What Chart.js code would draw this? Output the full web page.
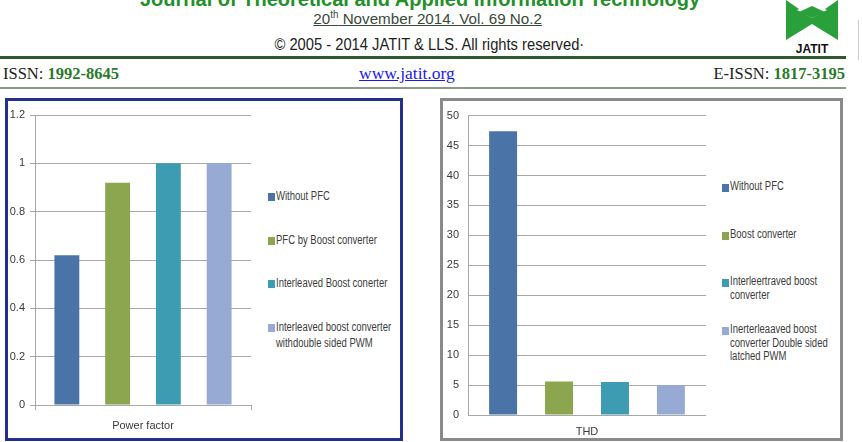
<!DOCTYPE html>
<html><head><meta charset="utf-8">
<script src="https://cdn.jsdelivr.net/npm/chart.js@4.4.1/dist/chart.umd.min.js"></script>
<style>
html,body{margin:0;padding:0;background:#fff;width:862px;height:442px;overflow:hidden;position:relative;font-family:'Liberation Sans',Arial,sans-serif;}
.abs{position:absolute;white-space:nowrap;}
.frame{position:absolute;box-sizing:border-box;background:#fff;}
.lg{position:absolute;font-family:'Liberation Sans',sans-serif;font-size:12.5px;color:#3c3c3c;line-height:15px;white-space:nowrap;}
.lg .sq{position:absolute;width:7px;height:8px;left:0;top:4px;}
.lg .tx{position:absolute;left:8px;top:0;transform:scaleX(0.76);transform-origin:0 0;}
canvas{position:absolute;}
</style></head><body>

<div class="abs" style="left:0;width:840px;top:-11px;text-align:center;font-size:20px;line-height:20px;font-weight:bold;color:#23902a;">Journal of Theoretical and Applied Information Technology</div>
<div class="abs" style="left:0;width:856px;top:11px;text-align:center;font-size:15.5px;line-height:15px;color:#3a4a3a;"><span style="text-decoration:underline;display:inline-block;transform:scaleX(0.98);">20<sup style="font-size:10px;line-height:0;">th</sup> November 2014. Vol. 69 No.2</span></div>
<div class="abs" style="left:0;width:858px;top:37px;text-align:center;font-size:16px;line-height:16px;color:#222;"><span style="display:inline-block;transform:scaleX(0.92);">© 2005 - 2014 JATIT &amp; LLS. All rights reserved·</span></div>
<div class="abs" style="left:0;top:56px;width:846px;height:3px;background:#2f5a2f;"></div>
<div class="abs" style="left:0;top:87px;width:846px;height:2px;background:#8a9a8a;"></div>
<div class="abs" style="left:858px;top:20px;width:1px;height:40px;background:#ccc;"></div>
<div class="abs" style="left:3px;top:65px;font-family:'Liberation Serif','Times New Roman',serif;font-size:16.5px;line-height:17px;color:#222;">ISSN: <b style="color:#2a7a2a;">1992-8645</b></div>
<div class="abs" style="left:359px;top:65px;font-family:'Liberation Serif','Times New Roman',serif;font-size:17.5px;line-height:17px;color:#1a1aee;text-decoration:underline;">www.jatit.org</div>
<div class="abs" style="right:17px;top:65px;font-family:'Liberation Serif','Times New Roman',serif;font-size:16.5px;line-height:17px;color:#222;">E-ISSN: <b style="color:#2a7a2a;">1817-3195</b></div>
<svg class="abs" style="left:783px;top:0;" width="58" height="55" viewBox="0 0 58 55">
  <polygon points="3,0 29,18 55,0 55,40 29,24 3,40" fill="#2aa03a"/>
  <polygon points="14,10 29,2 44,10 29,18" fill="#fff"/>
  <polygon points="16,12 29,6 42,12 29,18" fill="#2aa03a"/>
  <text x="29" y="53" text-anchor="middle" font-family="Liberation Sans" font-weight="bold" font-size="12" fill="#111">JATIT</text>
</svg>

<div class="frame" style="left:5px;top:98px;width:398px;height:343px;border:3px solid #24308c;"></div>
<div class="frame" style="left:440px;top:98px;width:403px;height:343px;border:3px solid #8a8a8a;"></div>

<canvas id="pf" width="256" height="338" style="left:0;top:100px;width:256px;height:338px;"></canvas>
<canvas id="thd" width="263" height="338" style="left:443px;top:100px;width:263px;height:338px;"></canvas>
<div id="pfLegend"></div>
<div id="thdLegend"></div>

<script>
// ---- data ----
const pfCategories = ['Power factor'];
const pfSeries = ['Without PFC', 'PFC by Boost converter', 'Interleaved Boost conerter', 'Interleaved boost converter withdouble sided PWM'];
const pfLegendLines = [['Without PFC'], ['PFC by Boost converter'], ['Interleaved Boost conerter'], ['Interleaved boost converter', 'withdouble sided PWM']];
const pfValues = [0.62, 0.92, 1.0, 1.0];
const pfTicks = [0, 0.2, 0.4, 0.6, 0.8, 1, 1.2];

const thdCategories = ['THD'];
const thdSeries = ['Without PFC', 'Boost converter', 'Interleertraved boost converter', 'Inerterleaaved boost converter Double sided latched PWM'];
const thdLegendLines = [['Without PFC'], ['Boost converter'], ['Interleertraved boost', 'converter'], ['Inerterleaaved boost', 'converter Double sided', 'latched PWM']];
const thdValues = [47.4, 5.6, 5.5, 5.0];
const thdTicks = [0, 5, 10, 15, 20, 25, 30, 35, 40, 45, 50];

// ---- styles ----
const seriesColors = ['#4A74A8', '#8BA64F', '#3D9CB1', '#97AAD3'];
const FONT = "'Liberation Sans',sans-serif";
const gridColor = '#a8a8a8';
const textColor = '#3a3a3a';

function makeChart(id, cats, names, values, ticks, opt) {
  const datasets = names.map((n, i) => ({
    label: n,
    data: [values[i]],
    backgroundColor: seriesColors[i],
    borderWidth: 0,
    barPercentage: opt.barPct,
    categoryPercentage: opt.catPct
  }));
  return new Chart(document.getElementById(id), {
    type: 'bar',
    data: { labels: cats, datasets },
    options: {
      responsive: false,
      animation: false,
      devicePixelRatio: 1,
      layout: { padding: { top: opt.padTop, right: opt.padRight, bottom: 0, left: 0 } },
      plugins: { legend: { display: false }, tooltip: { enabled: false } },
      scales: {
        x: {
          afterFit: s => { s.height = opt.xHeight; },
          grid: { display: true, drawOnChartArea: false, drawTicks: opt.drawTicks, tickLength: 5, color: gridColor },
          border: { color: gridColor },
          ticks: { padding: opt.xPad, color: textColor, font: { family: FONT, size: 11 } }
        },
        y: {
          min: ticks[0], max: ticks[ticks.length - 1],
          afterFit: s => { s.width = opt.yWidth; },
          afterBuildTicks: s => { s.ticks = ticks.map(v => ({ value: v })); },
          grid: { color: gridColor, drawTicks: opt.drawTicks, tickLength: 5 },
          border: { color: gridColor },
          ticks: { padding: opt.yPad, color: textColor, font: { family: FONT, size: 11 },
                   callback: v => String(+(+v).toFixed(1)) }
        }
      }
    }
  });
}

makeChart('pf', pfCategories, pfSeries, pfValues, pfTicks,
  { barPct: 0.49, catPct: 0.94, padTop: 15, padRight: 5, xHeight: 33, yWidth: 35, drawTicks: true, xPad: 9, yPad: 5 });
makeChart('thd', thdCategories, thdSeries, thdValues, thdTicks,
  { barPct: 0.5, catPct: 0.94, padTop: 12, padRight: 0, xHeight: 23, yWidth: 25, drawTicks: false, xPad: 10, yPad: 9 });

function buildLegend(containerId, lines, left, firstTop, step, lineH) {
  const c = document.getElementById(containerId);
  lines.forEach((ls, i) => {
    const d = document.createElement('div');
    d.className = 'lg';
    d.style.left = left + 'px';
    d.style.top = (firstTop + i * step) + 'px';
    d.style.lineHeight = lineH + 'px';
    const sq = document.createElement('div');
    sq.className = 'sq';
    sq.style.background = seriesColors[i];
    const tx = document.createElement('div');
    tx.className = 'tx';
    tx.innerHTML = ls.map(s => s.replace(/&/g, '&amp;').replace(/</g, '&lt;')).join('<br>');
    d.appendChild(sq); d.appendChild(tx);
    c.appendChild(d);
  });
}
buildLegend('pfLegend', pfLegendLines, 268, 189, 43.7, 15.5);
buildLegend('thdLegend', thdLegendLines, 722, 180, 47.7, 13.5);
</script>
</body></html>
